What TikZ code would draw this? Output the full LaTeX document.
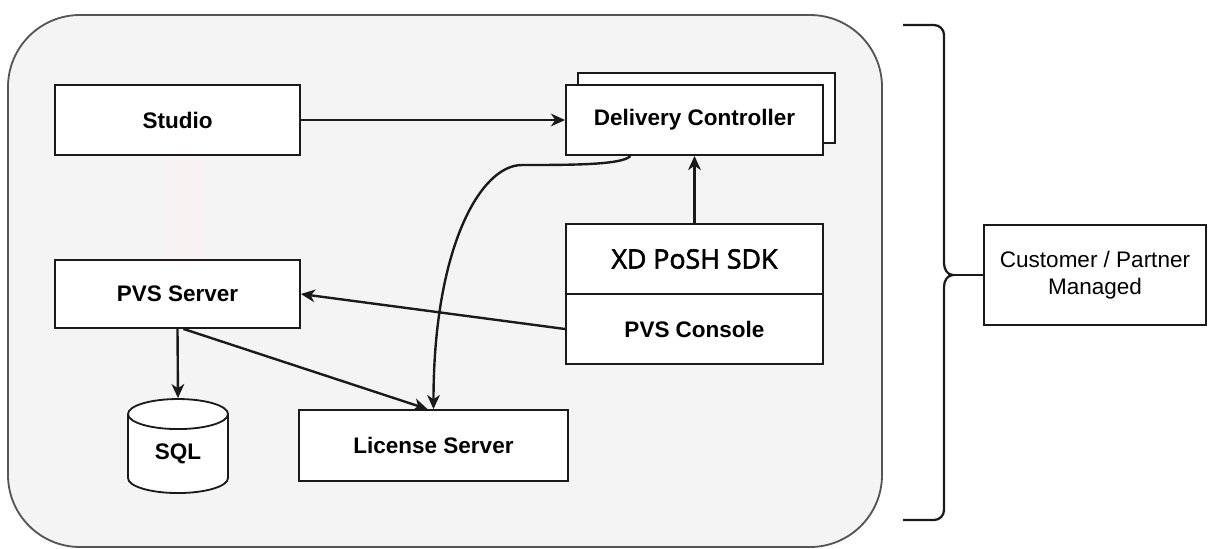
\documentclass[tikz,border=0pt]{standalone}
\usepackage{fontspec}
\setmainfont{Liberation Sans}
\newfontfamily\sdkfont[FakeBold=2.2]{Open Sans}
\definecolor{panelfill}{HTML}{F4F4F4}
\definecolor{paneldraw}{HTML}{555555}
\definecolor{linecol}{HTML}{1A1A1A}
\definecolor{faintpink}{HTML}{F8F2F2}
\usepackage{tikz}
\usetikzlibrary{shapes.geometric, arrows.meta}

\begin{document}
\begin{tikzpicture}[x=0.025cm, y=-0.025cm,
				box/.style={draw=linecol, fill=white, line width=1.3pt, minimum width=#1, minimum height=1.75cm, inner sep=0pt, font=\fontsize{16}{19}\selectfont\bfseries},
				box/.default=6.125cm,
				dbbox/.style={cylinder, shape border rotate=90, aspect=0.65, draw=linecol, fill=white, line width=1.3pt, minimum width=2.5cm, minimum height=2.35cm, inner sep=0pt, font=\fontsize{16}{19}\selectfont\bfseries},
				arrow/.style={-{Stealth[length=10pt, width=9pt, inset=3pt]}, line width=1.7pt, color=linecol}
			]
			\useasboundingbox (0,0) rectangle (1209,548);

			% Managed area
			\draw[fill=panelfill, draw=paneldraw, line width=1.3pt, rounded corners=1.8cm] (8,15) rectangle (882,547);
			\fill[faintpink] (165,158) rectangle (202,258);

			% Top row
			\node[box, line width=1.9pt] (studio) at (177.5,120) {Studio};
			\node[box=6.425cm] (dcback) at (706.5,108) {};
			\node[box=6.425cm] (dc) at (694.5,120) {Delivery Controller};

			% Middle row
			\node[box, minimum height=1.7cm] (pvs) at (177.5,294) {PVS Server};
			\node[box=6.425cm, font=\fontsize{19}{22}\sdkfont] (sdk) at (694.5,259) {XD PoSH SDK};
			\node[box=6.425cm] (pvscon) at (694.5,329) {PVS Console};

			% Bottom row
			\node[dbbox] (sql) at (178,454) {SQL};
			\node[box=6.725cm, minimum height=1.775cm] (lic) at (433.5,445.5) {License Server};

			% Ownership label
			\node[box=5.55cm, minimum height=2.5cm, line width=1.6pt, font=\fontsize{16}{19}\selectfont, align=center] (cust) at (1095,275) {Customer / Partner\\Managed};
			\draw[linecol, line width=1.6pt] (903,25) -- (934,25) to[out=0, in=90] (944,35) -- (944,263) to[out=-90, in=180] (953,275) to[out=180, in=90] (944,287) -- (944,510) to[out=-90, in=0] (934,520) -- (903,520);
			\coordinate (tip) at (953,275);
			\draw[linecol, line width=1.6pt] (tip) -- (cust.west);

			\coordinate (dcbend) at (522,165);
			\draw[arrow] (studio) -- (dc);
			\draw[arrow] (sdk) -- (dc);
			\draw[arrow] (pvscon.west) -- (pvs.east);
			\draw[arrow] (pvs.south) -- (sql.north);
			\draw[arrow] ([xshift=0.15cm]pvs.south) -- ([xshift=-0.15cm]lic.north);
			\draw[arrow] ([xshift=-1.6cm]dc.south) .. controls +(-8,9) and +(50,0) .. (dcbend) .. controls +(-42,0) and +(0,-160) .. (lic.north);
		\end{tikzpicture}
\end{document}
